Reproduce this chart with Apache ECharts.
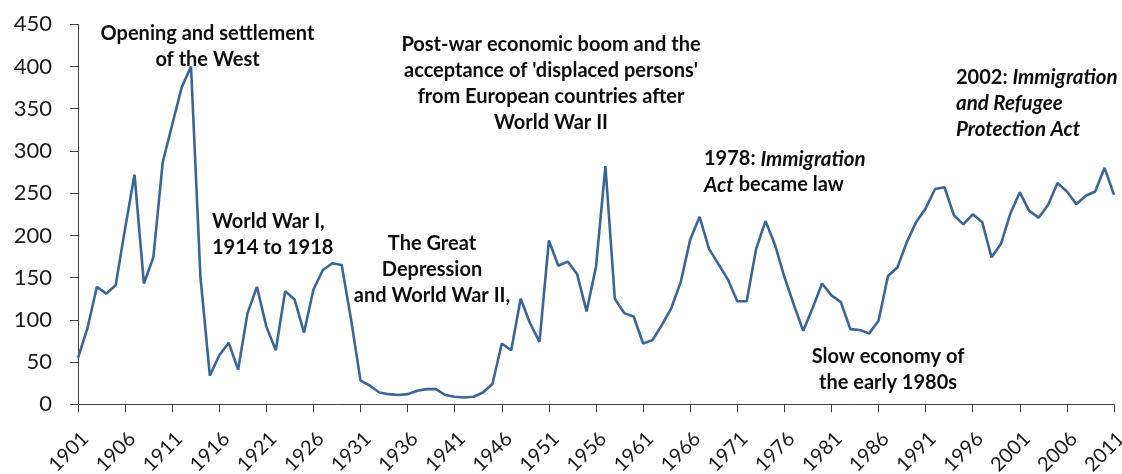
<!DOCTYPE html>
<html><head><meta charset="utf-8">
<script src="https://cdn.jsdelivr.net/npm/echarts@6/dist/echarts.min.js"></script>
<style>html,body{margin:0;padding:0;background:#fff}#c{width:1122px;height:474px}</style>
</head><body><div id="c"></div>
<script>
const years = [
 '1901','1902','1903','1904','1905','1906','1907','1908','1909','1910',
 '1911','1912','1913','1914','1915','1916','1917','1918','1919','1920',
 '1921','1922','1923','1924','1925','1926','1927','1928','1929','1930',
 '1931','1932','1933','1934','1935','1936','1937','1938','1939','1940',
 '1941','1942','1943','1944','1945','1946','1947','1948','1949','1950',
 '1951','1952','1953','1954','1955','1956','1957','1958','1959','1960',
 '1961','1962','1963','1964','1965','1966','1967','1968','1969','1970',
 '1971','1972','1973','1974','1975','1976','1977','1978','1979','1980',
 '1981','1982','1983','1984','1985','1986','1987','1988','1989','1990',
 '1991','1992','1993','1994','1995','1996','1997','1998','1999','2000',
 '2001','2002','2003','2004','2005','2006','2007','2008','2009','2010',
 '2011'];
const immigrants = [
 55, 90, 139, 131, 141, 208, 272, 143, 174, 287,
 331, 375, 400, 151, 34, 58, 73, 41, 108, 139,
 92, 64, 134, 124, 85, 136, 159, 167, 165, 100,
 28, 22, 14, 12, 11, 12, 16, 18, 18, 11,
 9, 8, 9, 14, 24, 72, 64, 125, 96, 74,
 194, 164, 169, 154, 110, 163, 282, 125, 108, 104,
 72, 76, 94, 114, 145, 195, 222, 184, 166, 148,
 122, 122, 184, 217, 189, 151, 118, 87, 114, 143,
 129, 121, 89, 88, 84, 99, 152, 162, 192, 216,
 232, 255, 257, 224, 213, 225, 216, 174, 190, 226,
 251, 229, 221, 236, 262, 252, 237, 247, 252, 280,
 248];
const yTicks = [0, 50, 100, 150, 200, 250, 300, 350, 400, 450];
const notes = {
  west: 'Opening and settlement\nof the West',
  ww1: 'World War I,\n1914 to 1918',
  depression: 'The Great\nDepression\nand World War II,',
  boom: "Post-war economic boom and the\nacceptance of 'displaced persons'\nfrom European countries after\nWorld War II",
  act1978: '{b|1978: }{i|Immigration}\n{i|Act}{b| became law}',
  slow: 'Slow economy of\nthe early 1980s',
  act2002: '{b|2002: }{i|Immigration}\n{i|and Refugee}\n{i|Protection Act}'
};

const FONT = 'Lato, "Open Sans", sans-serif';
const TXT = '#0d0d0d';
const noteStyle = (text, align) => ({
  text: text, align: align, verticalAlign: 'top',
  font: 'bold 20px ' + FONT, fill: TXT, lineHeight: 26,
  rich: {
    b: {font: 'bold 20px ' + FONT, fill: TXT, lineHeight: 26},
    i: {font: 'italic bold 20.5px ' + FONT, fill: TXT, lineHeight: 26}
  }
});

const chart = echarts.init(document.getElementById('c'), null, {renderer: 'canvas'});
chart.setOption({
  animation: false,
  backgroundColor: '#fff',
  grid: {left: 78, right: 8, top: 24.3, bottom: 69.7, containLabel: false, outerBoundsMode: 'none'},
  xAxis: {
    type: 'category', data: years, boundaryGap: false,
    axisLine: {lineStyle: {color: '#404040', width: 1}},
    axisTick: {interval: 4, length: 8, lineStyle: {color: '#404040'}},
    axisLabel: {interval: 4, rotate: 45, margin: 24, verticalAlign: 'top', align: 'right',
      color: '#1a1a1a', fontSize: 20, fontFamily: FONT}
  },
  yAxis: {
    type: 'value', min: yTicks[0], max: yTicks[yTicks.length - 1], interval: yTicks[1] - yTicks[0],
    axisLine: {show: true, lineStyle: {color: '#404040', width: 1}},
    axisTick: {show: true, length: 8, lineStyle: {color: '#404040'}},
    splitLine: {show: false},
    axisLabel: {margin: 26, color: '#1a1a1a', fontSize: 22, fontFamily: FONT}
  },
  series: [{
    type: 'line', data: immigrants, showSymbol: false, symbol: 'none',
    lineStyle: {color: '#3a6597', width: 2.6}, itemStyle: {color: '#3a6597'}
  }],
  graphic: [
    {type: 'text', x: 207.5, y: 21, style: noteStyle(notes.west, 'center')},
    {type: 'text', x: 212, y: 208.5, style: noteStyle(notes.ww1, 'left')},
    {type: 'text', x: 432, y: 231, style: noteStyle(notes.depression, 'center')},
    {type: 'text', x: 551, y: 32, style: noteStyle(notes.boom, 'center')},
    {type: 'text', x: 704, y: 146, style: noteStyle(notes.act1978, 'left')},
    {type: 'text', x: 888, y: 343.5, style: noteStyle(notes.slow, 'center')},
    {type: 'text', x: 956, y: 64.3, style: noteStyle(notes.act2002, 'left')}
  ]
});
</script></body></html>
